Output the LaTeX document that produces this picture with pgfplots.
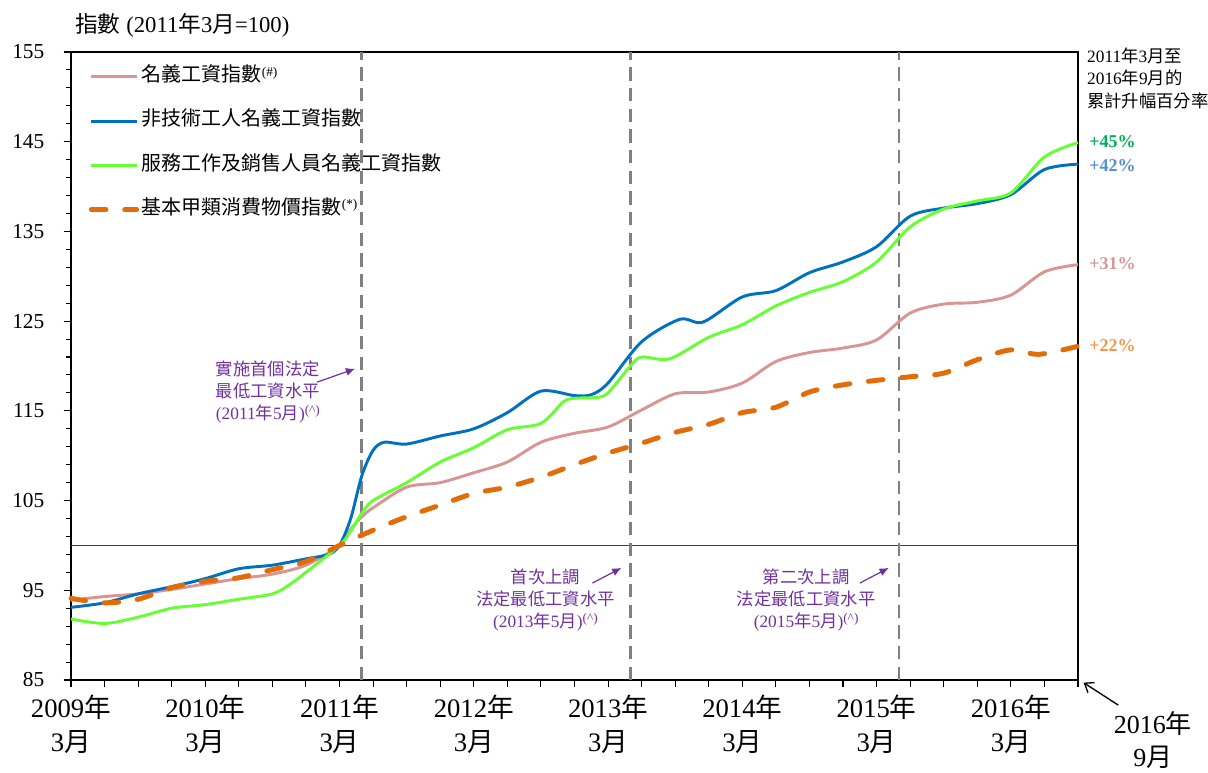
\documentclass[border=0pt]{standalone}
\usepackage{pgfplots}
\pgfplotsset{compat=1.18}
\usetikzlibrary{arrows.meta}
\usepackage{fontspec}
\setmainfont{Liberation Serif}
\newfontfamily\cjk{Noto Sans CJK TC}
\newcommand{\zh}[1]{{\cjk #1}}
\newcommand{\sups}[1]{\raisebox{0.6ex}{\fontsize{10}{10}\selectfont #1}}
\definecolor{pinkc}{HTML}{D99594}
\definecolor{bluec}{HTML}{0070C0}
\definecolor{greenc}{HTML}{66FF33}
\definecolor{orangec}{HTML}{E36C09}
\definecolor{purplec}{HTML}{7030A0}
\definecolor{gline}{HTML}{808080}
\definecolor{pg}{HTML}{00B050}
\definecolor{pb}{HTML}{558ED5}
\definecolor{po}{HTML}{F79646}

\pgfplotstableread{
m v
0 93.9
3 94.3
6 94.6
9 95.1
12 95.7
15 96.3
18 96.8
21 97.8
24 100
25 101.8
26 103.2
27 104.2
30 106.5
33 107.0
36 108.1
39 109.3
42 111.5
45 112.5
48 113.2
51 115.1
54 116.9
57 117.1
60 118.1
63 120.5
66 121.5
69 122.0
72 122.9
75 125.9
78 126.9
81 127.1
84 127.9
87 130.5
90 131.3
}\pinkdata

\pgfplotstableread{
m v
0 93.1
3 93.6
6 94.6
9 95.4
12 96.3
15 97.4
18 97.8
21 98.5
23 99.0
24 100.0
25 103.0
26 107.8
27 110.6
28 111.5
30 111.3
33 112.2
36 113.0
39 114.8
42 117.2
45 116.7
46.5 116.8
48 118.1
51 122.7
54.4 125.2
56.5 124.9
60 127.7
63 128.4
66 130.4
69 131.6
72 133.3
75 136.7
78 137.6
81 138.1
84 139.1
87 141.9
90 142.5
}\bluedata

\pgfplotstableread{
m v
0 91.8
3 91.3
6 92.0
9 93.0
12 93.4
15 94.0
18 94.6
19.5 95.6
21 97.0
24 100
25 101.6
26 103.6
27 105.0
30 107.0
33 109.3
36 110.9
39 112.9
42 113.6
44 116.0
45 116.4
47 116.5
48 117.0
50 120.0
51 121.0
53.5 120.8
57 123.2
60 124.6
63 126.7
66 128.2
69 129.4
72 131.6
75 135.5
78 137.5
81 138.4
84 139.3
87 143.3
90 144.9
}\greendata

\pgfplotstableread{
m v
0 94.1
3 93.6
6 94.0
9 95.3
12 96.0
15 96.4
18 97.3
21 98.2
24 100
27 101.7
30 103.2
33 104.5
36 105.8
39 106.5
42 107.6
45 109.0
48 110.3
51 111.4
54 112.6
57 113.5
60 114.8
63 115.4
66 117.1
69 117.9
72 118.4
75 118.8
78 119.2
81 120.7
84 121.8
86.5 121.3
90 122.2
}\orangedata

\begin{document}
\begin{tikzpicture}
\path[use as bounding box] (-53.25pt,-69.75pt) rectangle (852.75pt,510pt);
\begin{axis}[
  at={(0pt,0pt)}, anchor=south west,
  scale only axis, width=755.25pt, height=471pt,
  xmin=0, xmax=90, ymin=85, ymax=155,
  clip=false,
  axis line style={line width=0.9pt, black},
  xtick={0,3,...,90},
  xticklabels={{2009\zh{年}\\3\zh{月}},{},{},{},{2010\zh{年}\\3\zh{月}},{},{},{},{2011\zh{年}\\3\zh{月}},{},{},{},{2012\zh{年}\\3\zh{月}},{},{},{},{2013\zh{年}\\3\zh{月}},{},{},{},{2014\zh{年}\\3\zh{月}},{},{},{},{2015\zh{年}\\3\zh{月}},{},{},{},{2016\zh{年}\\3\zh{月}},{},{},{}},
  ytick={85,95,...,155},
  minor y tick num=4,
  xtick pos=left, ytick pos=left,
  tick align=outside,
  major tick length=5.5pt, minor tick length=4pt,
  tick style={black, line width=0.8pt},
  /pgf/number format/assume math mode=true,
  xticklabel style={font=\fontsize{20}{26}\selectfont, align=center, yshift=-2pt},
  yticklabel style={font=\fontsize{16}{18}\selectfont, xshift=-11pt},
  legend style={at={(axis description cs:0.0175,0.981)}, anchor=north west, draw=none, fill=none,
    font=\fontsize{15}{18}\selectfont, row sep=14.2pt, inner sep=0pt,
    nodes={inner sep=2pt, text height=11pt, text depth=4pt}},
  legend cell align=left,
  legend image code/.code={\draw[#1] (0pt,0pt) -- (34pt,0pt);},
]
\draw[color=black!75, line width=0.75pt] (axis cs:0,100) -- (axis cs:90,100);
\foreach \xx in {26,50,74} {
  \edef\tmp{\noexpand\draw[gline, line width=2.2pt, dash pattern=on 10pt off 5.5pt] (axis cs:\xx,85) -- (axis cs:\xx,155);}
  \tmp
}
\addplot[pinkc, line width=2.2pt, smooth, tension=0.5] table[x=m,y=v] {\pinkdata};
\addlegendentry{\zh{名義工資指數}\sups{(\#)}}
\addplot[bluec, line width=2.2pt, smooth, tension=0.5] table[x=m,y=v] {\bluedata};
\addlegendentry{\zh{非技術工人名義工資指數}}
\addplot[greenc, line width=2.2pt, smooth, tension=0.5] table[x=m,y=v] {\greendata};
\addlegendentry{\zh{服務工作及銷售人員名義工資指數}}
\addplot[orangec, line width=3.7pt, line cap=round, dash pattern=on 11pt off 14pt, smooth, tension=0.5] table[x=m,y=v] {\orangedata};
\addlegendentry{\zh{基本甲類消費物價指數}\sups{(*)}}

% title
\node[anchor=west, font=\fontsize{17}{18}\selectfont, inner sep=0pt] at (axis cs:0.36,158.0) {\zh{指數} (2011\zh{年}3\zh{月}=100)};
% right note
\node[anchor=north west, align=left, font=\fontsize{13}{16.8}\selectfont, inner sep=0pt] at (axis cs:90.8,155.5) {2011\zh{年}3\zh{月至}\\2016\zh{年}9\zh{月的}\\\zh{累計升幅百分率}};
% percentages
\node[anchor=west, font=\fontsize{13.5}{15}\selectfont\bfseries, text=pg, inner sep=0pt] at (axis cs:91.0,145.0) {+45\%};
\node[anchor=west, font=\fontsize{13.5}{15}\selectfont\bfseries, text=pb, inner sep=0pt] at (axis cs:91.0,142.3) {+42\%};
\node[anchor=west, font=\fontsize{13.5}{15}\selectfont\bfseries, text=pinkc, inner sep=0pt] at (axis cs:91.0,131.4) {+31\%};
\node[anchor=west, font=\fontsize{13.5}{15}\selectfont\bfseries, text=po, inner sep=0pt] at (axis cs:91.0,122.3) {+22\%};
% annotations
\node[align=center, text=purplec, font=\fontsize{13}{16.5}\selectfont] at (axis cs:17.6,117.1) {\zh{實施首個法定}\\\zh{最低工資水平}\\(2011\zh{年}5\zh{月})\sups{(\textasciicircum)}};
\draw[purplec, line width=0.9pt, -{Latex[length=7pt,width=6pt]}] (axis cs:22.0,118.2) -- (axis cs:25.4,119.7);
\node[align=center, text=purplec, font=\fontsize{13}{16.5}\selectfont] at (axis cs:42.4,93.9) {\zh{首次上調}\\\zh{法定最低工資水平}\\(2013\zh{年}5\zh{月})\sups{(\textasciicircum)}};
\draw[purplec, line width=0.9pt, -{Latex[length=7pt,width=6pt]}] (axis cs:46.6,95.8) -- (axis cs:49.2,97.5);
\node[align=center, text=purplec, font=\fontsize{13}{16.5}\selectfont] at (axis cs:65.7,93.9) {\zh{第二次上調}\\\zh{法定最低工資水平}\\(2015\zh{年}5\zh{月})\sups{(\textasciicircum)}};
\draw[purplec, line width=0.9pt, -{Latex[length=7pt,width=6pt]}] (axis cs:70.5,95.8) -- (axis cs:73.1,97.5);
% end label
\node[align=center, font=\fontsize{19.5}{24.5}\selectfont] at (axis cs:96.7,78.3) {2016\zh{年}\\9\zh{月}};
\draw[black, line width=1pt, -{Straight Barb[length=6pt,width=9pt]}] (axis cs:93.6,82.2) -- (axis cs:90.5,84.7);
\end{axis}
\end{tikzpicture}
\end{document}
